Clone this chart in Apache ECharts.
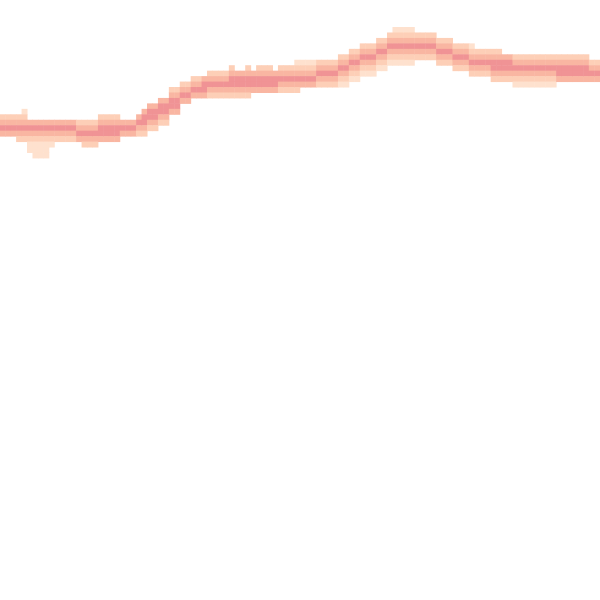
<!DOCTYPE html>
<html><head><meta charset="utf-8">
<script src="https://cdn.jsdelivr.net/npm/echarts@6/dist/echarts.min.js"></script>
<style>html,body{margin:0;padding:0;background:#fff}#c{width:600px;height:600px}</style>
</head><body><div id="c"></div>
<script>
// Per-column band extents (row indices, rows counted from the top)
var bandTop = [21,21,21,21,20,22,22,22,22,22, 22,22,22,22,22,22,22,22,21,21, 21,21,22,22,22,21,20,19,19,18,
  18,16,16,15,15,14,14,14,13,13, 13,13,12,13,13,12,13,12,12,12, 13,12,12,12,11,11,11,11,11,11,
  11,11,10,10,9,9,8,8,8,7, 7,6,5,5,5,5,6,6,6,6, 7,7,7,8,8,8,8,9,9,9,
  9,9,10,10,10,10,10,10,10,10, 10,10,10,10,10,10,10,10,11,11];
var coreTop = [23,23,23,23,23,23,23,23,23,23, 23,23,23,23,24,24,24,24,23,23, 23,23,23,23,23,22,21,20,20,19,
  19,18,18,17,17,16,16,15,15,15, 15,15,14,14,14,14,14,14,14,14, 14,14,14,14,14,14,14,14,13,13,
  13,13,12,12,11,11,10,10,10,9, 9,8,8,8,8,8,8,8,8,8, 9,9,9,10,10,10,11,11,11,11,
  11,11,11,11,12,12,12,12,12,12, 12,12,12,12,12,12,12,12,13,13];
var coreBot = [23,23,23,23,23,23,23,23,23,23, 23,23,23,23,24,24,24,24,24,24, 24,24,23,23,23,22,22,21,21,20,
  20,19,19,17,17,16,16,16,15,15, 15,15,15,15,15,15,15,15,15,15, 15,14,14,14,14,14,14,14,13,13,
  13,13,12,12,11,11,10,10,10,9, 9,8,8,8,8,8,8,8,8,8, 9,9,9,10,10,10,11,11,11,11,
  12,12,12,12,12,12,12,12,12,12, 12,12,13,13,13,13,13,13,13,13];
var bandBot = [24,24,24,25,25,27,28,28,28,26, 25,25,25,25,25,26,26,26,25,25, 25,25,24,24,24,24,24,23,23,22,
  22,20,20,18,18,17,17,17,17,17, 17,17,17,17,17,17,16,16,16,16, 16,16,16,16,16,15,15,15,15,15,
  15,15,15,15,14,14,13,13,13,12, 12,11,11,11,11,11,10,10,10,10, 11,11,11,12,12,12,13,13,13,13,
  14,14,14,14,15,15,15,15,15,15, 15,15,14,14,14,14,14,14,14,14];
var levelColors = ['#fee1ce', '#fdcfb7', '#f9b6a2', '#f09395'];
var nCols = 110, nRows = 110;

var xCats = [], yCats = [], data = [];
for (var i = 0; i < nCols; i++) xCats.push(i);
for (var j = 0; j < nRows; j++) yCats.push(j);
for (var c = 0; c < nCols; c++) {
  for (var r = bandTop[c]; r <= bandBot[c]; r++) {
    var d = r < coreTop[c] ? coreTop[c] - r : (r > coreBot[c] ? r - coreBot[c] : 0);
    var v = d === 0 ? 4 : (d === 1 ? 3 : (d === 2 ? 2 : 1));
    data.push([c, r, v]);
  }
}
var chart = echarts.init(document.getElementById('c'));
chart.setOption({
  animation: false,
  grid: {left: 0, right: 0, top: 0, bottom: 0},
  xAxis: {type: 'category', data: xCats, show: false},
  yAxis: {type: 'category', data: yCats, inverse: true, show: false},
  visualMap: {type: 'piecewise', show: false, dimension: 2,
    pieces: [{value: 1, color: levelColors[0]}, {value: 2, color: levelColors[1]},
             {value: 3, color: levelColors[2]}, {value: 4, color: levelColors[3]}]},
  series: [{type: 'heatmap', data: data, itemStyle: {borderWidth: 0}}]
});
</script></body></html>
